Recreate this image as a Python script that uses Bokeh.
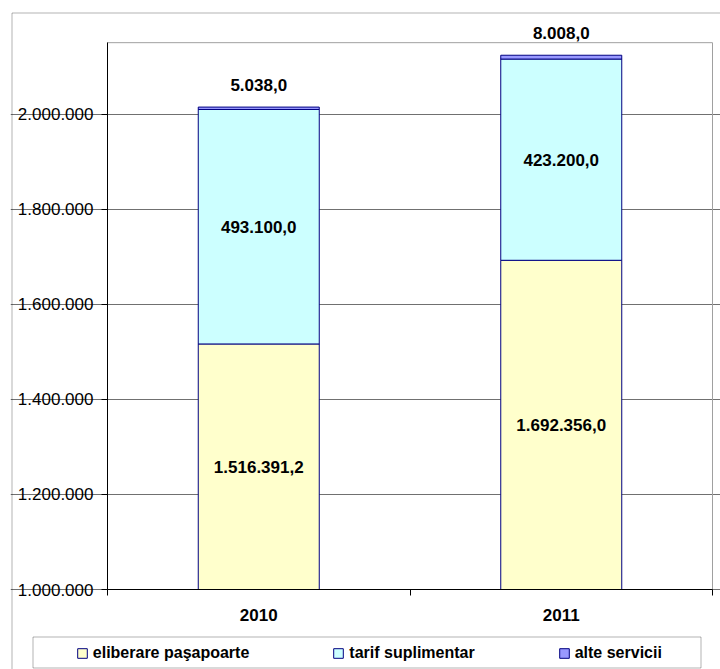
from bokeh.plotting import figure
from bokeh.models import (ColumnDataSource, FixedTicker, LabelSet, Legend,
                          BoxAnnotation, Range1d)
from bokeh.core.properties import value
from bokeh.embed import file_html
from bokeh.resources import INLINE

# ---- data ----
years = ["2010", "2011"]
series_names = ["eliberare paşapoarte", "tarif suplimentar", "alte servicii"]
eliberare = [1516391.2, 1692356.0]
tarif = [493100.0, 423200.0]
alte = [5038.0, 8008.0]
colors = ["#FFFFCC", "#CCFFFF", "#9999FF"]
y_ticks = [1000000, 1200000, 1400000, 1600000, 1800000, 2000000]
y_tick_labels = ["1.000.000", "1.200.000", "1.400.000", "1.600.000",
                 "1.800.000", "2.000.000"]
y_min, y_top = 1000000, 2150000

FONT = "Liberation Sans"

# ---- layout (pixels) ----
W, H = 720, 669
FR_L, FR_T = 10, 11               # drawing frame (top-left)
BORDER_L, BORDER_T = 11.5, 12.5   # outer chart border
PA_L, PA_R, PA_B = 107, 712, 589  # plot area in pixels
PX_PER_Y = 475.5 / 1e6
LEG_L, LEG_R, LEG_T, LEG_B = 32.5, 700.5, 636.5, 667.5


def ro(v, d=1):
    s = f"{v:,.{d}f}"
    return s.replace(",", "#").replace(".", ",").replace("#", ".")


n = len(years)
px_per_x = (PA_R - PA_L) / n
x_range = Range1d(-(PA_L - FR_L) / px_per_x, n + (W - PA_R) / px_per_x)
y_range = Range1d(y_min - (H - PA_B) / PX_PER_Y, y_min + (PA_B - FR_T) / PX_PER_Y)

x = [i + 0.5 for i in range(n)]
tops1 = [a + b for a, b in zip(eliberare, tarif)]
tops2 = [t + c for t, c in zip(tops1, alte)]
source = ColumnDataSource(dict(
    x=x, base=[y_min] * n, eliberare=eliberare, tops1=tops1, tops2=tops2))

p = figure(width=W, height=H, x_range=x_range, y_range=y_range,
           output_backend="svg", toolbar_location=None,
           min_border_left=FR_L, min_border_top=FR_T,
           min_border_right=0, min_border_bottom=0)
p.background_fill_color = "white"
p.border_fill_color = "white"
p.outline_line_color = None

# plot area border (grey)
p.quad(left=[0], right=[n], bottom=[y_min], top=[y_top],
       fill_alpha=0, line_color="#a0a0a0", line_width=1)

# stacked bars (the value axis starts at y_min)
segs = [("base", "eliberare"), ("eliberare", "tops1"), ("tops1", "tops2")]
renderers = []
for (b, t), c in zip(segs, colors):
    renderers.append(p.vbar(x="x", bottom=b, top=t, width=0.4, source=source,
                            fill_color=c, line_color="#000080", line_width=1))

# axes (fixed inside the frame)
yax = p.yaxis[0]
yax.fixed_location = 0
yax.bounds = (y_min, y_top)
yax.ticker = FixedTicker(ticks=y_ticks, minor_ticks=[])
yax.major_label_overrides = {t: l for t, l in zip(y_ticks, y_tick_labels)}
yax.major_tick_out = 6
yax.major_tick_in = 0
yax.minor_tick_line_color = None
yax.major_label_standoff = 8
yax.major_label_text_font = FONT
yax.major_label_text_font_size = "17px"
yax.major_label_text_color = "black"
yax.axis_line_color = "black"

xax = p.xaxis[0]
xax.fixed_location = y_min
xax.bounds = (0, n)
xax.ticker = FixedTicker(ticks=x, minor_ticks=[float(i) for i in range(n + 1)])
xax.major_label_overrides = {xi: y for xi, y in zip(x, years)}
xax.major_tick_out = 0
xax.major_tick_in = 0
xax.minor_tick_out = 6
xax.minor_tick_in = 0
xax.minor_tick_line_color = "black"
xax.major_label_standoff = 13
xax.major_label_text_font = FONT
xax.major_label_text_font_style = "bold"
xax.major_label_text_font_size = "17px"
xax.major_label_text_color = "black"
xax.axis_line_color = "black"

p.xgrid.visible = False
p.ygrid.ticker = FixedTicker(ticks=y_ticks)
p.ygrid.bounds = (0, n)
p.ygrid.grid_line_color = "#707070"
p.ygrid.grid_line_width = 1

# data labels
lab_src = ColumnDataSource(dict(
    x=x * 3,
    y=[(y_min + v) / 2 for v in eliberare]
      + [(a + t) / 2 for a, t in zip(eliberare, tops1)]
      + tops2,
    off=[0] * (2 * n) + [22] * n,
    text=[ro(v) for v in eliberare] + [ro(v) for v in tarif] + [ro(v) for v in alte],
))
labels = LabelSet(x="x", y="y", text="text", y_offset="off", source=lab_src,
                  text_align="center", text_baseline="middle",
                  text_font=value(FONT), text_font_style="bold",
                  text_font_size="17px", text_color="black")
p.add_layout(labels)

# legend
legend = Legend(items=[(nm, [r]) for nm, r in zip(series_names, renderers)],
                orientation="horizontal",
                location=(77 - 1.2 - FR_L, 7.5), spacing=83,
                glyph_width=12, glyph_height=12, label_height=12,
                label_standoff=5, padding=0, margin=0,
                border_line_alpha=0, background_fill_alpha=0,
                label_text_font=FONT, label_text_font_style="bold",
                label_text_font_size="16px", label_text_color="black")
p.add_layout(legend, "center")

p.add_layout(BoxAnnotation(left=LEG_L, right=LEG_R, top=LEG_T, bottom=LEG_B,
                           left_units="canvas", right_units="canvas",
                           top_units="canvas", bottom_units="canvas",
                           fill_alpha=0, line_color="black", line_width=1))
# outer chart border (right and bottom edges lie outside the picture)
p.add_layout(BoxAnnotation(left=BORDER_L, right=W + 40, top=BORDER_T, bottom=H + 40,
                           left_units="canvas", right_units="canvas",
                           top_units="canvas", bottom_units="canvas",
                           fill_alpha=0, line_color="black", line_width=1))

open("out.html", "w").write(file_html(p, INLINE))
